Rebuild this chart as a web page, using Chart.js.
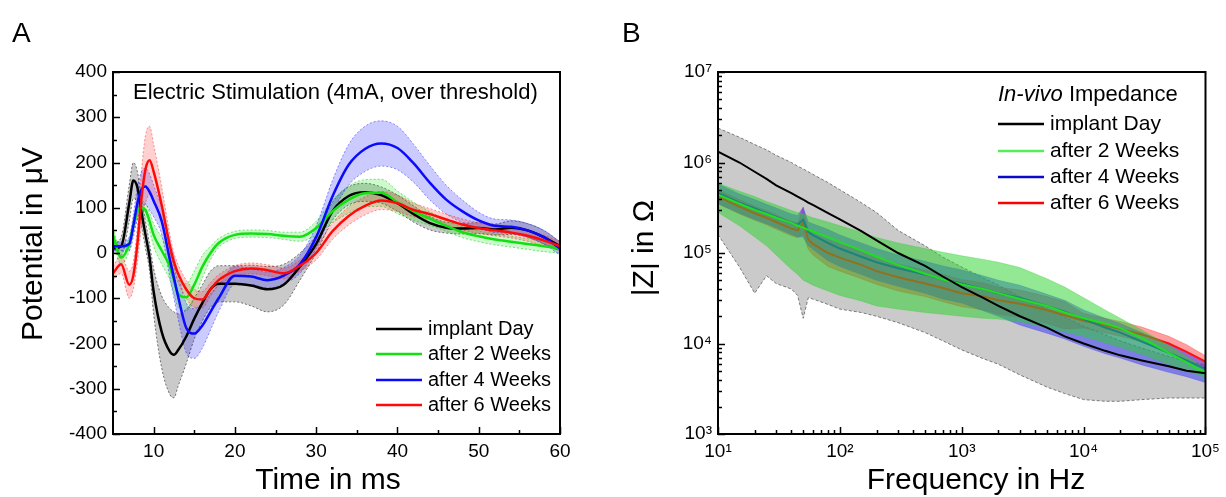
<!DOCTYPE html>
<html>
<head>
<meta charset="utf-8">
<script src="https://cdn.jsdelivr.net/npm/chart.js@4.4.1/dist/chart.umd.min.js"></script>
<style>
  body { margin: 0; background: #fff; }
  #wrap { position: relative; width: 1226px; height: 497px; }
  canvas { position: absolute; top: 0; }
  #chartA { left: 0; }
  #chartB { left: 610px; }
</style>
</head>
<body>
<div id="wrap">
  <canvas id="chartA" width="610" height="497"></canvas>
  <canvas id="chartB" width="616" height="497"></canvas>
</div>
<script>
// ---- panel A : evoked potential (mean and spread) ----
const timeMs = [5, 6, 7, 7.5, 8, 8.5, 9, 9.5, 10, 11, 12, 12.5, 13, 14, 15, 16, 17, 18, 20, 22, 24, 26, 28, 30, 32, 34, 36, 38, 40, 42, 44, 46, 48, 50, 52, 54, 56, 58, 60];

const implantMean = [10, 15, 110, 160, 145, 90, 40, -10, -85, -175, -218, -225, -215, -185, -145, -110, -80, -68, -68, -72, -80, -70, -30, 20, 92, 126, 134, 128, 110, 86, 66, 56, 54, 55, 52, 56, 50, 35, 15];
const implantSd = [10, 20, 40, 40, 35, 30, 30, 30, 50, 80, 95, 95, 80, 60, 45, 40, 40, 40, 40, 45, 50, 45, 30, 20, 20, 20, 20, 18, 18, 18, 15, 12, 12, 12, 12, 15, 15, 15, 10];

const week2Mean = [40, -10, 20, 60, 90, 100, 95, 70, 40, 5, -30, -60, -90, -98, -70, -30, 0, 22, 40, 43, 42, 38, 36, 55, 92, 118, 132, 133, 112, 92, 76, 60, 46, 37, 30, 25, 20, 15, 10];
const week2Sd = [15, 15, 15, 15, 15, 15, 15, 20, 25, 30, 30, 30, 30, 30, 30, 25, 15, 10, 8, 8, 8, 8, 10, 15, 25, 30, 30, 30, 25, 20, 15, 12, 12, 12, 12, 12, 12, 12, 10];

const week4Mean = [15, 15, 20, 60, 110, 140, 147, 135, 115, 70, -15, -55, -95, -165, -178, -160, -130, -100, -50, -52, -60, -50, -25, 35, 125, 195, 230, 242, 232, 198, 155, 118, 92, 72, 60, 58, 50, 35, 10];
const week4Sd = [10, 10, 15, 25, 35, 40, 40, 40, 35, 30, 40, 45, 50, 55, 55, 50, 40, 30, 20, 18, 18, 18, 20, 25, 35, 45, 50, 50, 48, 42, 38, 32, 25, 18, 15, 15, 15, 15, 15];

const week6Mean = [-45, -25, -70, -50, 20, 120, 185, 205, 180, 105, 15, -20, -45, -80, -100, -103, -80, -60, -40, -34, -38, -45, -28, 0, 48, 82, 104, 116, 110, 95, 86, 74, 63, 55, 50, 45, 38, 28, 15];
const week6Sd = [15, 20, 30, 30, 40, 60, 75, 75, 60, 40, 25, 20, 20, 20, 20, 18, 15, 12, 12, 12, 12, 12, 12, 15, 18, 20, 20, 20, 18, 15, 12, 12, 12, 12, 12, 12, 12, 12, 10];

const timeTicks = [10, 20, 30, 40, 50, 60];
const potentialTicks = [-400, -300, -200, -100, 0, 100, 200, 300, 400];

// ---- panel B : impedance spectra ----
const freqHz = [10, 15, 20, 25, 30, 40, 45, 50, 55, 60, 80, 100, 150, 200, 300, 500, 700, 1000, 1500, 2000, 3000, 5000, 7000, 10000, 15000, 20000, 30000, 50000, 70000, 100000];

const zImplant = [1.32e6, 1.0e6, 7.9e5, 6.6e5, 5.6e5, 4.6e5, 4.2e5, 3.9e5, 3.6e5, 3.4e5, 2.75e5, 2.35e5, 1.74e5, 1.38e5, 1.0e5, 7.2e4, 5.5e4, 4.2e4, 3.2e4, 2.6e4, 2.0e4, 1.5e4, 1.2e4, 1.0e4, 8.3e3, 7.4e3, 6.5e3, 5.6e3, 5.0e3, 4.7e3];
const zImplantHi = [2.4e6, 1.9e6, 1.58e6, 1.38e6, 1.2e6, 1.0e6, 9.1e5, 8.5e5, 7.9e5, 7.4e5, 6.0e5, 5.0e5, 3.6e5, 2.8e5, 1.78e5, 1.2e5, 9.0e4, 7.0e4, 5.3e4, 4.4e4, 3.3e4, 2.4e4, 1.95e4, 1.55e4, 1.25e4, 1.07e4, 8.9e3, 7.2e3, 6.3e3, 5.8e3];
const zImplantLo = [1.6e5, 7e4, 3.6e4, 5.6e4, 4.6e4, 4.0e4, 3.4e4, 1.9e4, 3.2e4, 3.1e4, 2.7e4, 2.4e4, 2.2e4, 2.0e4, 1.7e4, 1.32e4, 1.07e4, 8.5e3, 6.8e3, 5.9e3, 4.5e3, 3.3e3, 2.8e3, 2.4e3, 2.3e3, 2.3e3, 2.4e3, 2.5e3, 2.5e3, 2.5e3];

const zWeek2 = [4.4e5, 3.5e5, 3.0e5, 2.7e5, 2.45e5, 2.15e5, 2.0e5, 1.9e5, 1.8e5, 1.74e5, 1.5e5, 1.32e5, 1.07e5, 9.1e4, 7.4e4, 5.9e4, 5.1e4, 4.5e4, 4.0e4, 3.6e4, 3.1e4, 2.6e4, 2.2e4, 1.9e4, 1.66e4, 1.48e4, 1.15e4, 7.9e3, 6.2e3, 4.7e3];
const zWeek2Hi = [5.9e5, 4.8e5, 4.2e5, 3.7e5, 3.4e5, 2.95e5, 2.8e5, 2.7e5, 2.57e5, 2.45e5, 2.2e5, 2.0e5, 1.7e5, 1.48e5, 1.29e5, 1.12e5, 1.02e5, 9.3e4, 8.5e4, 7.9e4, 6.9e4, 5.2e4, 4.2e4, 3.2e4, 2.35e4, 1.9e4, 1.41e4, 9.5e3, 7.2e3, 5.2e3];
const zWeek2Lo = [2.8e5, 2.0e5, 1.5e5, 1.2e5, 9.5e4, 6.6e4, 5.8e4, 5.0e4, 4.7e4, 4.4e4, 3.8e4, 3.4e4, 2.95e4, 2.6e4, 2.4e4, 2.2e4, 2.1e4, 2.0e4, 1.9e4, 1.86e4, 1.74e4, 1.5e4, 1.35e4, 1.2e4, 1.02e4, 9.1e3, 7.6e3, 5.9e3, 5.0e3, 4.2e3];

const zWeek4 = [4.6e5, 3.6e5, 3.1e5, 2.75e5, 2.5e5, 2.15e5, 2.05e5, 2.35e5, 1.7e5, 1.58e5, 1.29e5, 1.12e5, 9.1e4, 7.9e4, 6.8e4, 5.8e4, 5.1e4, 4.6e4, 4.0e4, 3.6e4, 3.2e4, 2.6e4, 2.25e4, 1.86e4, 1.5e4, 1.32e4, 1.05e4, 7.9e3, 6.5e3, 5.2e3];
const zWeek4Hi = [5.8e5, 4.5e5, 3.9e5, 3.45e5, 3.15e5, 2.7e5, 2.6e5, 3.2e5, 2.2e5, 2.1e5, 1.82e5, 1.58e5, 1.29e5, 1.12e5, 9.5e4, 8.1e4, 7.2e4, 6.5e4, 5.6e4, 5.0e4, 4.4e4, 3.5e4, 3.0e4, 2.35e4, 1.9e4, 1.66e4, 1.32e4, 9.9e3, 8.1e3, 6.3e3];
const zWeek4Lo = [3.5e5, 2.75e5, 2.35e5, 2.1e5, 1.9e5, 1.6e5, 1.5e5, 1.5e5, 1.2e5, 1.1e5, 8.2e4, 7.1e4, 5.8e4, 5.0e4, 4.3e4, 3.6e4, 3.1e4, 2.8e4, 2.3e4, 2.0e4, 1.6e4, 1.3e4, 1.12e4, 9.3e3, 7.7e3, 6.9e3, 5.8e3, 4.8e3, 4.3e3, 3.7e3];

const zWeek6 = [4.2e5, 3.25e5, 2.75e5, 2.45e5, 2.2e5, 1.86e5, 1.78e5, 2.15e5, 1.41e5, 1.26e5, 1.0e5, 8.9e4, 7.4e4, 6.3e4, 5.4e4, 4.6e4, 4.1e4, 3.6e4, 3.3e4, 3.0e4, 2.75e4, 2.35e4, 2.05e4, 1.78e4, 1.58e4, 1.45e4, 1.26e4, 1.0e4, 8.1e3, 6.3e3];
const zWeek6Hi = [5.0e5, 3.9e5, 3.3e5, 2.95e5, 2.65e5, 2.25e5, 2.15e5, 3.2e5, 1.8e5, 1.65e5, 1.41e5, 1.26e5, 1.05e5, 8.9e4, 7.6e4, 6.5e4, 5.8e4, 5.1e4, 4.7e4, 4.2e4, 3.9e4, 3.3e4, 2.9e4, 2.15e4, 1.9e4, 1.75e4, 1.52e4, 1.2e4, 9.7e3, 7.3e3];
const zWeek6Lo = [3.5e5, 2.7e5, 2.3e5, 2.05e5, 1.83e5, 1.55e5, 1.48e5, 1.6e5, 1.1e5, 9.5e4, 7.1e4, 6.3e4, 5.2e4, 4.5e4, 3.8e4, 3.3e4, 2.9e4, 2.55e4, 2.35e4, 2.1e4, 1.95e4, 1.66e4, 1.45e4, 1.48e4, 1.31e4, 1.2e4, 1.05e4, 8.3e3, 6.7e3, 5.3e3];

const freqTicks = [10, 100, 1000, 10000, 100000];
const zTicks = [1e3, 1e4, 1e5, 1e6, 1e7];

const seriesNames = ["implant Day", "after 2 Weeks", "after 4 Weeks", "after 6 Weeks"];

const FONT = "'Liberation Sans', Arial, sans-serif";
const SUP = ["\u2070", "\u00b9", "\u00b2", "\u00b3", "\u2074", "\u2075", "\u2076", "\u2077"];

Chart.defaults.font.family = FONT;
Chart.defaults.color = "#000";

function pts(xs, ys) {
  return xs.map((x, i) => ({ x: x, y: ys[i] }));
}

function lineSet(data, color, width, order, smooth) {
  return {
    data: data, borderColor: color, borderWidth: width, pointRadius: 0,
    fill: false, order: order, cubicInterpolationMode: smooth ? "monotone" : "default", tension: 0
  };
}

// upper edge then lower edge, lower one fills back to the upper
function bandSets(hi, lo, fillColor, edgeColor, dash, order, smooth) {
  const mode = smooth ? "monotone" : "default";
  return [
    { data: hi, borderColor: edgeColor, borderWidth: 1, borderDash: dash, pointRadius: 0, fill: false, order: order, cubicInterpolationMode: mode, tension: 0 },
    { data: lo, borderColor: edgeColor, borderWidth: 1, borderDash: dash, pointRadius: 0, fill: "-1", backgroundColor: fillColor, order: order, cubicInterpolationMode: mode, tension: 0 }
  ];
}

// box round the plot and inward tick marks
const axisFrame = {
  id: "axisFrame",
  afterDatasetsDraw(chart, args, o) {
    const ctx = chart.ctx, a = chart.chartArea;
    const sx = chart.scales.x, sy = chart.scales.y;
    ctx.save();
    ctx.strokeStyle = "#000";
    ctx.lineWidth = 1.5;
    ctx.beginPath();
    o.xTicks.forEach(t => {
      const p = Math.round(sx.getPixelForValue(t[0])) + 0.5;
      ctx.moveTo(p, a.bottom); ctx.lineTo(p, a.bottom - t[1]);
    });
    o.yTicks.forEach(t => {
      const p = Math.round(sy.getPixelForValue(t[0])) + 0.5;
      ctx.moveTo(a.left, p); ctx.lineTo(a.left + t[1], p);
    });
    ctx.stroke();
    ctx.lineWidth = 2;
    ctx.strokeRect(a.left, a.top, a.right - a.left, a.bottom - a.top);
    ctx.restore();
  }
};

// panel letter, axis titles, inner title and legend
const annotations = {
  id: "annotations",
  afterDraw(chart, args, o) {
    const ctx = chart.ctx;
    ctx.save();
    ctx.fillStyle = "#000";
    ctx.textBaseline = "alphabetic";
    ctx.font = "28px " + FONT;
    ctx.fillText(o.letter, o.letterX, 42);

    ctx.font = o.axisSize + "px " + FONT;
    ctx.textAlign = "center";
    ctx.fillText(o.xTitle, o.xTitleX, o.xTitleY);
    ctx.save();
    ctx.translate(o.yTitleX, o.yTitleY);
    ctx.rotate(-Math.PI / 2);
    ctx.fillText(o.yTitle, 0, 0);
    ctx.restore();
    ctx.textAlign = "left";

    ctx.textBaseline = "middle";
    let x = o.titleX;
    o.title.forEach(part => {
      ctx.font = (part.italic ? "italic " : "") + o.titleSize + "px " + FONT;
      ctx.fillText(part.text, x, o.titleY);
      x += ctx.measureText(part.text).width;
    });

    ctx.font = o.legendSize + "px " + FONT;
    o.names.forEach((name, i) => {
      const y = o.rows[i];
      ctx.strokeStyle = o.colors[i];
      ctx.lineWidth = o.lineWidth;
      ctx.beginPath();
      ctx.moveTo(o.lineX0, y); ctx.lineTo(o.lineX1, y);
      ctx.stroke();
      ctx.fillText(name, o.textX, y);
    });
    ctx.restore();
  }
};

// ---------- chart A ----------
const aBlack = "#000000", aGreen = "#11e011", aBlue = "#0a0aff", aRed = "#ff0a0a";

const datasetsA = [].concat(
  bandSets(pts(timeMs, implantMean.map((v, i) => v + implantSd[i])), pts(timeMs, implantMean.map((v, i) => v - implantSd[i])),
    "rgba(90,90,90,0.32)", "rgba(60,60,60,0.7)", [2, 2], 10, true),
  bandSets(pts(timeMs, week2Mean.map((v, i) => v + week2Sd[i])), pts(timeMs, week2Mean.map((v, i) => v - week2Sd[i])),
    "rgba(0,230,0,0.2)", "rgba(0,200,0,0.5)", [2, 2], 9, true),
  bandSets(pts(timeMs, week4Mean.map((v, i) => v + week4Sd[i])), pts(timeMs, week4Mean.map((v, i) => v - week4Sd[i])),
    "rgba(20,20,255,0.22)", "rgba(20,20,255,0.45)", [2, 2], 8, true),
  bandSets(pts(timeMs, week6Mean.map((v, i) => v + week6Sd[i])), pts(timeMs, week6Mean.map((v, i) => v - week6Sd[i])),
    "rgba(255,20,20,0.2)", "rgba(255,20,20,0.45)", [2, 2], 7, true),
  [
    lineSet(pts(timeMs, implantMean), aBlack, 2.5, 4, true),
    lineSet(pts(timeMs, week2Mean), aGreen, 2.5, 3, true),
    lineSet(pts(timeMs, week4Mean), aBlue, 2.5, 2, true),
    lineSet(pts(timeMs, week6Mean), aRed, 2.5, 1, true)
  ]
);

const minorTime = [15, 25, 35, 45, 55];
const minorPot = [-350, -250, -150, -50, 50, 150, 250, 350];

new Chart(document.getElementById("chartA"), {
  type: "line",
  data: { datasets: datasetsA },
  plugins: [axisFrame, annotations],
  options: {
    responsive: false,
    animation: false,
    layout: { padding: { top: 72, right: 50, left: 0, bottom: 0 } },
    plugins: {
      legend: { display: false },
      tooltip: { enabled: false },
      axisFrame: {
        xTicks: timeTicks.map(v => [v, 7]).concat(minorTime.map(v => [v, 4])),
        yTicks: potentialTicks.map(v => [v, 7]).concat(minorPot.map(v => [v, 4]))
      },
      annotations: {
        letter: "A", letterX: 12,
        axisSize: 30,
        xTitle: "Time in ms", xTitleX: 328, xTitleY: 489,
        yTitle: "Potential in \u03bcV", yTitleX: 42, yTitleY: 244,
        title: [{ text: "Electric Stimulation (4mA, over threshold)" }],
        titleX: 133, titleY: 93, titleSize: 22,
        names: seriesNames, colors: [aBlack, aGreen, aBlue, aRed],
        rows: [329, 354, 380, 405], lineX0: 376, lineX1: 422, textX: 428,
        legendSize: 20, lineWidth: 2.5
      }
    },
    scales: {
      x: {
        type: "linear", min: 5, max: 60,
        afterBuildTicks: s => { s.ticks = timeTicks.map(v => ({ value: v })); },
        afterFit: s => { s.height = 63; },
        grid: { display: false, drawTicks: false },
        border: { display: false },
        ticks: { font: { size: 19 }, color: "#000", padding: 6, maxRotation: 0, autoSkip: false }
      },
      y: {
        type: "linear", min: -400, max: 400,
        afterBuildTicks: s => { s.ticks = potentialTicks.map(v => ({ value: v })); },
        afterFit: s => { s.width = 113; },
        grid: { display: false, drawTicks: false },
        border: { display: false },
        ticks: { font: { size: 19 }, color: "#000", padding: 6, autoSkip: false }
      }
    }
  }
});

// ---------- chart B ----------
const bBlack = "#000000", bGreen = "#22dd22", bBlue = "#0a3acc", bRed = "#ff1010";

const datasetsB = [].concat(
  bandSets(pts(freqHz, zImplantHi), pts(freqHz, zImplantLo), "rgba(150,150,150,0.5)", "rgba(110,110,110,0.9)", [3, 2], 10, false),
  bandSets(pts(freqHz, zWeek6Hi), pts(freqHz, zWeek6Lo), "rgba(255,40,40,0.45)", "rgba(255,40,40,0.3)", [], 9, false),
  bandSets(pts(freqHz, zWeek4Hi), pts(freqHz, zWeek4Lo), "rgba(50,50,255,0.5)", "rgba(60,60,255,0.3)", [], 8, false),
  [
    lineSet(pts(freqHz, zWeek6), bRed, 2, 7, false),
    lineSet(pts(freqHz, zWeek4), bBlue, 2, 6, false)
  ],
  bandSets(pts(freqHz, zWeek2Hi), pts(freqHz, zWeek2Lo), "rgba(40,210,40,0.5)", "rgba(40,210,40,0.3)", [], 5, false),
  [
    lineSet(pts(freqHz, zWeek2), bGreen, 2, 2, false),
    lineSet(pts(freqHz, zImplant), bBlack, 2, 1, false)
  ]
);

const freqMarks = [], zMarks = [];
for (let d = 1; d <= 4; d++) for (let k = 1; k <= 9; k++) freqMarks.push([k * Math.pow(10, d), k === 1 ? 7 : 4]);
freqMarks.push([1e5, 7]);
for (let d = 3; d <= 6; d++) for (let k = 1; k <= 9; k++) zMarks.push([k * Math.pow(10, d), k === 1 ? 7 : 4]);
zMarks.push([1e7, 7]);

const powerLabel = v => "10" + SUP[Math.round(Math.log10(v))];

new Chart(document.getElementById("chartB"), {
  type: "line",
  data: { datasets: datasetsB },
  plugins: [axisFrame, annotations],
  options: {
    responsive: false,
    animation: false,
    layout: { padding: { top: 72, right: 14, left: 0, bottom: 0 } },
    plugins: {
      legend: { display: false },
      tooltip: { enabled: false },
      axisFrame: { xTicks: freqMarks, yTicks: zMarks },
      annotations: {
        letter: "B", letterX: 12,
        axisSize: 30,
        xTitle: "Frequency in Hz", xTitleX: 366, xTitleY: 489,
        yTitle: "|Z| in \u03a9", yTitleX: 43, yTitleY: 248,
        title: [{ text: "In-vivo", italic: true }, { text: " Impedance" }],
        titleX: 388, titleY: 95, titleSize: 22,
        names: seriesNames, colors: [bBlack, "#55ee55", "#0a0acc", "#ff0000"],
        rows: [124, 151, 177, 203], lineX0: 388, lineX1: 434, textX: 440,
        legendSize: 21, lineWidth: 2.5
      }
    },
    scales: {
      x: {
        type: "logarithmic", min: 10, max: 100000,
        afterBuildTicks: s => { s.ticks = freqTicks.map(v => ({ value: v })); },
        afterFit: s => { s.height = 63; },
        grid: { display: false, drawTicks: false },
        border: { display: false },
        ticks: { font: { size: 19 }, color: "#000", padding: 6, maxRotation: 0, autoSkip: false, callback: powerLabel }
      },
      y: {
        type: "logarithmic", min: 1000, max: 1e7,
        afterBuildTicks: s => { s.ticks = zTicks.map(v => ({ value: v })); },
        afterFit: s => { s.width = 108; },
        grid: { display: false, drawTicks: false },
        border: { display: false },
        ticks: { font: { size: 19 }, color: "#000", padding: 6, autoSkip: false, callback: powerLabel }
      }
    }
  }
});
</script>
</body>
</html>
